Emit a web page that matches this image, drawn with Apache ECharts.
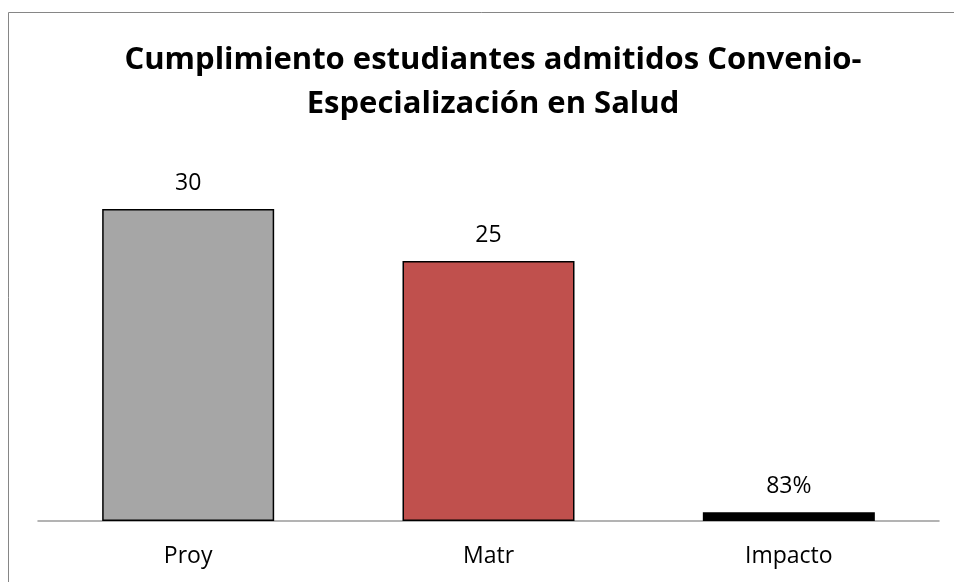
<!DOCTYPE html>
<html lang="es">
<head>
    <meta charset="UTF-8">
    <title>Cumplimiento estudiantes admitidos</title>
    <style>
        html, body { margin: 0; padding: 0; background: #fff; }
        #main { width: 954px; height: 582px; }
    </style>
</head>
<body>
    <div id="main"></div>
    <script src="https://cdn.jsdelivr.net/npm/echarts@6/dist/echarts.min.js"></script>
    <script>
        // datos
        var categories = ['Proy', 'Matr', 'Impacto'];
        var values = [30, 25, 0.83];
        var labelKinds = ['num', 'num', 'pct'];
        var barColors = ['#A6A6A6', '#C0504D', '#000000'];
        var titleText = 'Cumplimiento estudiantes admitidos Convenio-\nEspecialización en Salud';

        var chartDom = document.getElementById('main');
        var myChart = echarts.init(chartDom);

        var option = {
            animation: false,
            title: {
                text: titleText,
                left: 488,
                textAlign: 'center',
                top: 33,
                textStyle: {
                    fontFamily: 'Open Sans',
                    fontWeight: 'bold',
                    fontSize: 31,
                    lineHeight: 44,
                    color: '#000'
                }
            },
            graphic: [
                {
                    type: 'rect',
                    shape: { x: 8.5, y: 12.5, width: 1000, height: 1000 },
                    style: { fill: 'none', stroke: '#868686', lineWidth: 1 },
                    silent: true
                }
            ],
            grid: {
                left: 38,
                right: 15,
                top: 157,
                bottom: 61
            },
            xAxis: {
                type: 'category',
                data: categories,
                axisLine: { lineStyle: { color: '#9a9a9a', width: 1.5 } },
                axisTick: { show: false },
                axisLabel: {
                    fontFamily: 'Open Sans',
                    fontSize: 23,
                    color: '#000',
                    margin: 24
                }
            },
            yAxis: {
                type: 'value',
                min: 0,
                max: 35,
                show: false,
                splitLine: { show: false }
            },
            series: [
                {
                    type: 'bar',
                    barWidth: 172,
                    data: values.map(function (v, i) {
                        return {
                            value: v,
                            itemStyle: {
                                color: barColors[i],
                                borderColor: '#000',
                                borderWidth: 1.5
                            }
                        };
                    }),
                    label: {
                        show: true,
                        position: 'top',
                        distance: 14,
                        fontFamily: 'Open Sans',
                        fontSize: 23,
                        color: '#000',
                        formatter: function (p) {
                            if (labelKinds[p.dataIndex] === 'pct') {
                                return Math.round(p.value * 100) + '%';
                            }
                            return p.value;
                        }
                    }
                }
            ]
        };

        option && myChart.setOption(option);
    </script>
</body>
</html>
